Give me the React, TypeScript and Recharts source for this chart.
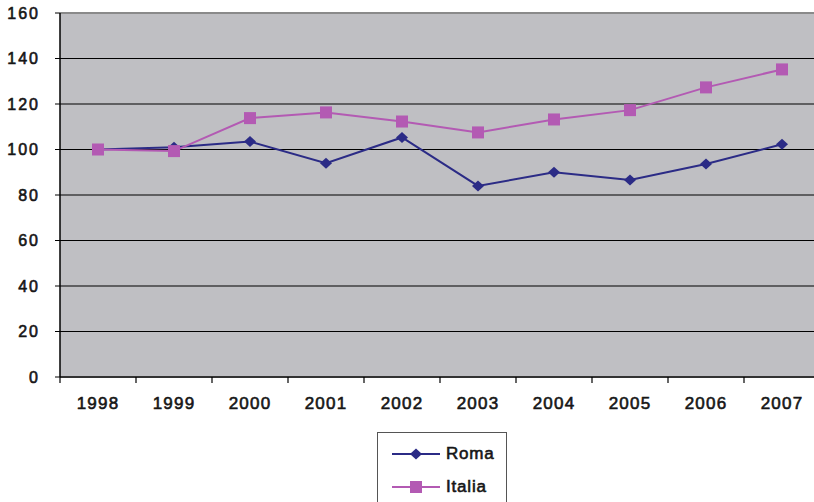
import React from 'react';
import { LineChart, Line, XAxis, YAxis, CartesianGrid, Legend, ReferenceLine } from 'recharts';

const years = ['1998', '1999', '2000', '2001', '2002', '2003', '2004', '2005', '2006', '2007'];
const roma = [100, 101, 103.5, 94, 105.3, 84, 90, 86.6, 93.6, 102.3];
const italia = [100, 99.3, 113.8, 116.3, 112.3, 107.5, 113.2, 117.3, 127.3, 135.2];
const yTicks = [0, 20, 40, 60, 80, 100, 120, 140, 160];
const seriesOrder = ['Roma', 'Italia'];

const data = years.map((year, i) => ({ year, Roma: roma[i], Italia: italia[i] }));

const CHART_W = 830;
const CHART_H = 502;
const LEFT = 60;
const RIGHT = 10;
const BAND = (CHART_W - LEFT - RIGHT) / years.length;

const ROMA_COLOR = '#2B2B86';
const ITALIA_COLOR = '#B35AB3';
const TEXT_COLOR = '#161616';
const FONT = '"Liberation Sans", Arial, sans-serif';

function Diamond(props: any) {
  const { cx, cy, fill } = props;
  if (cx == null || cy == null) return null;
  return <polygon points={`${cx},${cy - 5.5} ${cx + 6},${cy} ${cx},${cy + 5.5} ${cx - 6},${cy}`} fill={fill} />;
}

function Square(props: any) {
  const { cx, cy, fill } = props;
  if (cx == null || cy == null) return null;
  return <rect x={cx - 6} y={cy - 6} width={12} height={12} fill={fill} />;
}

function YearTick(props: any) {
  const { x, y, payload, index } = props;
  const last = index === years.length - 1;
  return (
    <g>
      <line x1={x - BAND / 2} x2={x - BAND / 2} y1={y - 8} y2={y - 2} stroke="#000" strokeWidth={1.2} />
      {last && <line x1={x + BAND / 2} x2={x + BAND / 2} y1={y - 8} y2={y - 2} stroke="#000" strokeWidth={1.2} />}
      <text
        x={x}
        y={y + 24}
        textAnchor="middle"
        fill={TEXT_COLOR}
        stroke={TEXT_COLOR}
        strokeWidth={0.6}
        fontSize={17}
        letterSpacing={1.2}
        fontFamily={FONT}
      >
        {payload.value}
      </text>
    </g>
  );
}

function LegendBox(props: any) {
  const payload = [...(props.payload || [])].sort(
    (a: any, b: any) => seriesOrder.indexOf(a.value) - seriesOrder.indexOf(b.value)
  );
  return (
    <div
      style={{
        border: '1.5px solid #555',
        width: 130,
        height: 80,
        boxSizing: 'border-box',
        paddingTop: 4,
        background: '#fff',
        fontFamily: FONT,
      }}
    >
      {payload.map((entry: any) => (
        <div key={entry.value} style={{ display: 'flex', alignItems: 'center', height: 33 }}>
          <svg width={64} height={14} style={{ marginLeft: 14 }}>
            <line x1={0} x2={48} y1={7} y2={7} stroke={entry.color} strokeWidth={2} />
            {entry.value === 'Roma' ? (
              <Diamond cx={24} cy={7} fill={entry.color} />
            ) : (
              <Square cx={24} cy={7} fill={entry.color} />
            )}
          </svg>
          <span
            style={{
              fontSize: 17,
              letterSpacing: 0.8,
              color: TEXT_COLOR,
              WebkitTextStroke: `0.6px ${TEXT_COLOR}`,
              marginLeft: -10,
            }}
          >
            {entry.value}
          </span>
        </div>
      ))}
    </div>
  );
}

export default function App() {
  return (
    <div style={{ position: 'absolute', left: 0, top: 0, width: 814, height: 502, overflow: 'hidden', background: '#fff' }}>
      <LineChart width={CHART_W} height={CHART_H} data={data} margin={{ top: 13, right: RIGHT, left: 0, bottom: 95 }}>
        <CartesianGrid vertical={false} stroke="#000" strokeWidth={1.2} fill="#BFBFC3" fillOpacity={1} />
        <ReferenceLine y={160} stroke="#8A8A8A" strokeWidth={2} />
        <XAxis
          dataKey="year"
          scale="band"
          axisLine={{ stroke: '#333', strokeWidth: 2 }}
          tickLine={false}
          tick={<YearTick />}
          interval={0}
          height={30}
        />
        <YAxis
          domain={[0, 160]}
          ticks={yTicks}
          width={LEFT}
          axisLine={{ stroke: '#000', strokeWidth: 1.5 }}
          tickLine={{ stroke: '#000' }}
          tickSize={5}
          tickMargin={15}
          tick={{
            fill: TEXT_COLOR,
            stroke: TEXT_COLOR,
            strokeWidth: 0.6,
            fontSize: 16,
            letterSpacing: 2,
            fontFamily: FONT,
          }}
        />
        <Legend
          layout="vertical"
          align="center"
          verticalAlign="middle"
          content={<LegendBox />}
          wrapperStyle={{ left: 377, top: 432, width: 132 }}
        />
        <Line
          type="linear"
          dataKey="Roma"
          stroke={ROMA_COLOR}
          strokeWidth={2}
          dot={<Diamond fill={ROMA_COLOR} />}
          activeDot={false}
          isAnimationActive={false}
        />
        <Line
          type="linear"
          dataKey="Italia"
          stroke={ITALIA_COLOR}
          strokeWidth={2}
          dot={<Square fill={ITALIA_COLOR} />}
          activeDot={false}
          isAnimationActive={false}
        />
      </LineChart>
    </div>
  );
}
